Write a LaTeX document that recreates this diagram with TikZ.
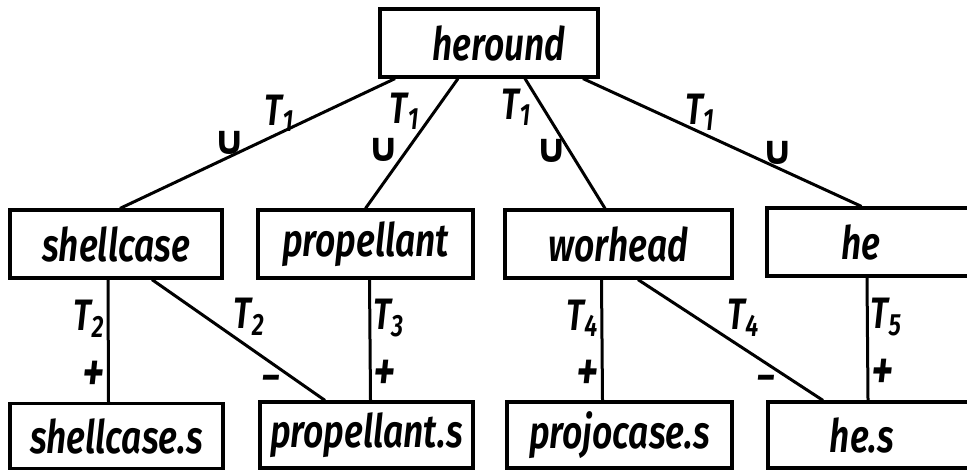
\documentclass[tikz,border=0pt]{standalone}
\usepackage{fontspec}
\setmainfont{Fira Sans}[FakeStretch=0.77,BoldFont={Fira Sans SemiBold},BoldItalicFont={Fira Sans SemiBold Italic}]
\newfontfamily\cupfont{DejaVu Sans}
\usetikzlibrary{positioning}
\tikzset{part/.style={draw,line width=1.6pt,minimum height=34pt,inner sep=0pt,font=\bfseries\itshape\fontsize{23}{25}\selectfont}}
\tikzset{tag/.style={inner sep=1pt,font=\bfseries\itshape\fontsize{22}{24}\selectfont}}
\newcommand{\un}{{\upshape\cupfont\fontsize{20}{22}\selectfont ∪}}
\newcommand{\pl}{{\fontsize{28}{30}\selectfont +}}

\begin{document}
\begin{tikzpicture}[x=0.5pt,y=-0.5pt,line width=1.5pt]
                \useasboundingbox (0,0) rectangle (967,473);
                \node[part,minimum width=109pt] (heround) at (489,43) {\hspace*{10pt}heround};
                \node[part,minimum width=106pt] (shellcase) at (116,244) {shellcase};
                \node[part,minimum width=107.5pt] (propellant) at (365.5,244) {propellant};
                \node[part,minimum width=113.5pt] (worhead) at (618.5,244) {worhead};
                \node[part,minimum width=110pt] (he) at (877,242) {he\hspace*{16pt}};
                \node[part,minimum width=106.5pt,minimum height=32.5pt] (shellcases) at (116.5,436) {shellcase.s};
                \node[part,minimum width=106.5pt,minimum height=33pt] (propellants) at (366.5,435) {propellant.s};
                \node[part,minimum width=112.5pt,minimum height=33pt] (projocases) at (619.5,435) {projocase.s};
                \node[part,minimum width=110pt,minimum height=33pt] (hes) at (878,435) {he.s\hspace*{16pt}};
                \path
                        ([xshift=-47pt]heround.south) edge node[tag,pos=0.42,above=-1pt] {T\textsubscript{1}}
                                node[tag,pos=0.6,above=-1pt] {\un} ([xshift=2pt]shellcase.north)
                        ([xshift=-15.5pt]heround.south) edge node[tag,pos=0.25,left=6pt] {T\textsubscript{1}}
                                node[tag,pos=0.55,left=2pt] {\un} (propellant.north)
                        ([xshift=18pt]heround.south) edge node[tag,pos=0.22,left=4pt] {T\textsubscript{1}}
                                node[tag,pos=0.56,left=-1pt] {\un} ([xshift=-6.75pt]worhead.north)
                        ([xshift=47pt]heround.south) edge node[tag,pos=0.42,above=-1pt] {T\textsubscript{1}}
                                node[tag,pos=0.7,above] {\un} ([xshift=-7.75pt]he.north)
                        ([xshift=-4pt]shellcase.south) edge node[tag,pos=0.32,left] {T\textsubscript{2}}
                                node[tag,pos=0.79,left] {\pl} ([xshift=-4pt]shellcases.north)
                        ([xshift=18pt]shellcase.south) edge node[tag,pos=0.47,above right=-2pt] {T\textsubscript{2}}
                                node[tag,pos=0.76,below left] {--} ([xshift=-20.75pt]propellants.north)
                        ([xshift=2pt]propellant.south) edge node[tag,pos=0.32,right] {T\textsubscript{3}}
                                node[tag,pos=0.79,right] {\pl} ([xshift=2pt]propellants.north)
                        ([xshift=-8.5pt]worhead.south) edge node[tag,pos=0.32,left] {T\textsubscript{4}}
                                node[tag,pos=0.79,left] {\pl} ([xshift=-8.5pt]projocases.north)
                        ([xshift=9.75pt]worhead.south) edge node[tag,pos=0.48,above right=-2pt] {T\textsubscript{4}}
                                node[tag,pos=0.76,below left] {--} ([xshift=-27.5pt]hes.north)
                        ([xshift=-5pt]he.south) edge node[tag,pos=0.32,right] {T\textsubscript{5}}
                                node[tag,pos=0.79,right] {\pl} ([xshift=-5pt]hes.north)
                ;
\end{tikzpicture}
\end{document}
